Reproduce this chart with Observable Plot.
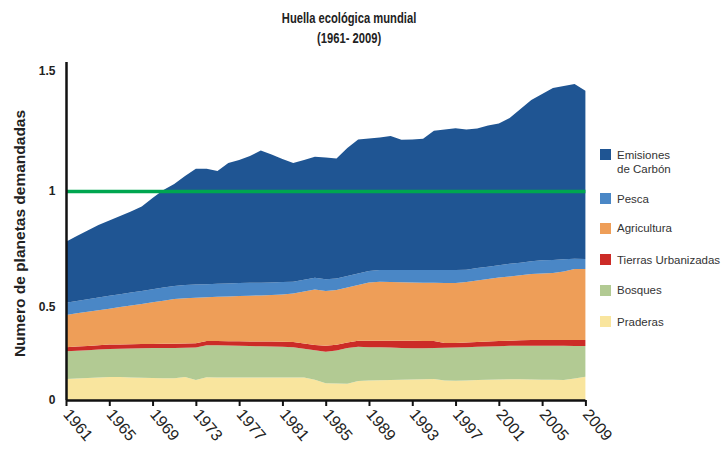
<!DOCTYPE html>
<html><head><meta charset="utf-8">
<script src="https://cdn.jsdelivr.net/npm/d3@7"></script>
<script src="https://cdn.jsdelivr.net/npm/@observablehq/plot@0.6"></script>
<style>
body{margin:0;background:#fff;font-family:"Liberation Sans",Arial,sans-serif;}
#wrap{position:relative;width:722px;height:453px;overflow:hidden;}
#title{height:40px;padding-top:8px;width:698px;text-align:center;font-weight:bold;font-size:14px;line-height:20px;color:#222;}
#title span{display:inline-block;transform:scaleX(0.8);}
#legend{position:absolute;left:600px;top:0;}
.sw{position:absolute;left:0;width:11px;height:11px;}
.lb{position:absolute;left:17px;font-size:11.5px;line-height:14px;color:#333;white-space:nowrap;}
svg{display:block;}
</style></head>
<body><div id="wrap"><div id="title"><span>Huella ecológica mundial</span><br><span>(1961- 2009)</span></div><div id="legend"></div></div>
<script>
const years = [1961,1962,1963,1964,1965,1966,1967,1968,1969,1970,
  1971,1972,1973,1974,1975,1976,1977,1978,1979,1980,
  1981,1982,1983,1984,1985,1986,1987,1988,1989,1990,
  1991,1992,1993,1994,1995,1996,1997,1998,1999,2000,
  2001,2002,2003,2004,2005,2006,2007,2008,2009];
const praderas = [.113,.116,.118,.121,.124,.123,.121,.119,.118,.117,
  .117,.124,.107,.122,.121,.121,.121,.121,.121,.121,
  .121,.121,.1215,.109,.090,.089,.088,.102,.105,.106,
  .108,.109,.110,.111,.113,.105,.103,.105,.108,.109,
  .110,.111,.111,.110,.109,.109,.108,.116,.125];
const bosques = [.149,.149,.150,.150,.150,.153,.156,.159,.161,.163,
  .163,.157,.175,.173,.173,.172,.170,.169,.168,.167,
  .165,.163,.1535,.158,.170,.177,.192,.184,.179,.177,
  .174,.171,.168,.167,.166,.176,.179,.179,.178,.179,
  .179,.180,.181,.181,.182,.182,.183,.174,.165];
const urbanizadas = [.021,.022,.022,.023,.024,.023,.023,.023,.022,.022,
  .023,.023,.023,.022,.023,.023,.025,.025,.026,.026,
  .027,.028,.029,.029,.032,.031,.029,.033,.035,.035,
  .036,.038,.040,.039,.038,.026,.024,.025,.026,.027,
  .028,.027,.029,.032,.032,.032,.032,.033,.033];
const agricultura = [.174,.179,.184,.189,.193,.201,.207,.212,.219,.225,
  .231,.234,.235,.225,.227,.229,.231,.234,.235,.238,
  .241,.246,.263,.279,.277,.276,.275,.276,.287,.291,
  .290,.289,.288,.288,.287,.296,.297,.299,.302,.306,
  .310,.314,.316,.319,.321,.324,.330,.341,.341];
const pesca = [.0615,.060,.059,.058,.057,.055,.055,.056,.057,.057,
  .057,.057,.057,.056,.056,.056,.056,.055,.055,.054,
  .054,.051,.050,.051,.051,.050,.050,.049,.049,.050,
  .051,.052,.053,.054,.055,.056,.056,.053,.054,.053,
  .053,.054,.054,.055,.057,.056,.053,.044,.043];
const carbon = [.2625,.280,.297,.312,.325,.337,.350,.364,.393,.420,
  .438,.468,.496,.495,.483,.516,.526,.542,.564,.546,
  .525,.508,.512,.517,.520,.512,.545,.571,.564,.564,
  .570,.555,.556,.559,.592,.597,.602,.595,.592,.599,
  .601,.618,.651,.682,.703,.726,.732,.738,.711];
const categories = ["Praderas","Bosques","Tierras Urbanizadas","Agricultura","Pesca","Emisiones de Carbón"];
const colors = ["#f9e59e","#b2ca93","#cc2b27","#ee9e58","#4a87c6","#1f5593"];
const xTicks = [1961,1965,1969,1973,1977,1981,1985,1989,1993,1997,2001,2005,2009];
const yTicks = [0,0.5,1,1.5];
const limitLine = [1];
const yLabel = "Numero de planetas demandadas";

const series = [praderas, bosques, urbanizadas, agricultura, pesca, carbon];
const data = categories.flatMap((c, i) => years.map((yr, j) => ({year: yr, category: c, value: series[i][j]})));

// The reference's value axis is unevenly spaced between its labels; reproduce it piecewise.
const warp = v => v <= 0.5 ? v * 186 : v <= 1 ? 93 + (v - 0.5) * 232 : 209 + (v - 1) * 240;

const chart = Plot.plot({
  width: 722, height: 405,
  marginLeft: 66, marginRight: 137, marginTop: 18, marginBottom: 53,
  style: {fontFamily: "'Liberation Sans', Arial, sans-serif", background: "transparent", color: "#222"},
  x: {domain: [1961, 2009], range: [66, 585.4]},
  y: {type: "linear", transform: warp, domain: [0, 338], range: [352, 14]},
  color: {domain: categories, range: colors},
  marks: [
    Plot.areaY(data, {x: "year", y: "value", z: "category", fill: "category", order: categories}),
    Plot.ruleY(limitLine, {x1: 1961, x2: 2009, stroke: "#00a650", strokeWidth: 3.5}),
    Plot.ruleY([0], {x1: 1961, x2: 2009, stroke: "#111", strokeWidth: 2.5}),
    Plot.ruleX([1961], {y1: 0, y2: 1.5375, stroke: "#111", strokeWidth: 2.5}),
    Plot.axisX({ticks: xTicks, tickFormat: "d", tickRotate: 50, tickSize: 6, tickPadding: 5, fontSize: 16, strokeWidth: 2, stroke: "#111", label: null}),
    Plot.axisY({ticks: yTicks.map(warp), tickFormat: (d, i) => String(yTicks[i]), tickSize: 0, tickPadding: 11, fontSize: 12, fontWeight: "bold", label: null}),
    Plot.text([yLabel], {frameAnchor: "left", rotate: -90, dx: -46, textAnchor: "middle", fontSize: 15.5, fontWeight: "bold", fill: "#222"})
  ]
});
document.getElementById("wrap").appendChild(chart);

// legend (top to bottom)
const legend = document.getElementById("legend");
const legendTops = [149, 193, 222.5, 254, 284.5, 316];
categories.slice().reverse().forEach((c, i) => {
  const col = colors[categories.indexOf(c)];
  const sw = document.createElement("div");
  sw.className = "sw"; sw.style.top = legendTops[i] + "px"; sw.style.background = col;
  const lb = document.createElement("div");
  lb.className = "lb"; lb.style.top = (legendTops[i] - 1.5) + "px";
  if (c === "Emisiones de Carbón") { lb.innerHTML = "Emisiones<br>de Carbón"; }
  else lb.textContent = c;
  legend.appendChild(sw); legend.appendChild(lb);
});
</script>
</body></html>
